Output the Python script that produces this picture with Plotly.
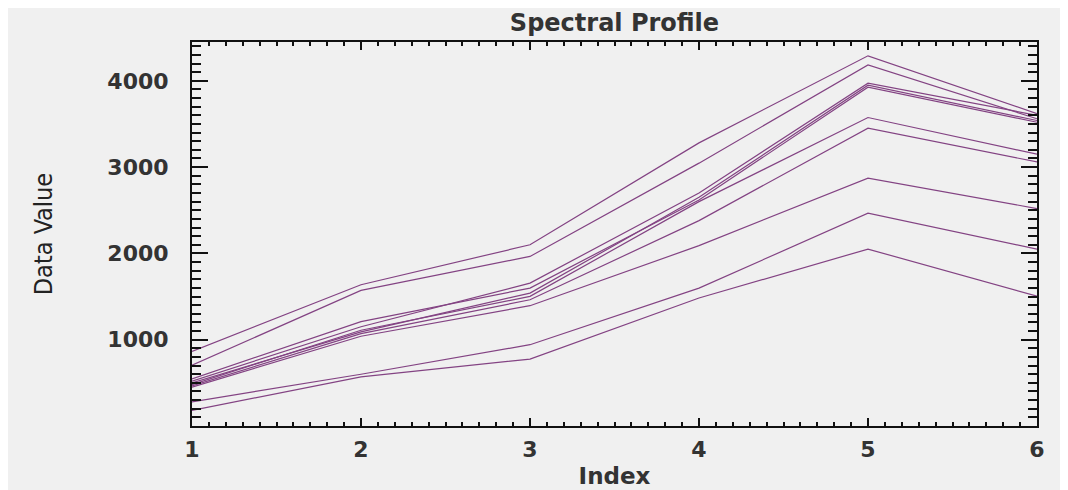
import plotly.graph_objects as go

index = [1, 2, 3, 4, 5, 6]

profile_a = [865, 1637, 2100, 3281, 4290, 3620]
profile_b = [705, 1571, 1965, 3046, 4185, 3560]
profile_c = [520, 1150, 1656, 2700, 3973, 3600]
profile_d = [500, 1090, 1540, 2650, 3950, 3540]
profile_e = [545, 1210, 1598, 2620, 3927, 3520]
profile_f = [480, 1110, 1502, 2600, 3575, 3150]
profile_g = [465, 1070, 1463, 2380, 3452, 3060]
profile_h = [450, 1040, 1394, 2090, 2873, 2520]
profile_i = [280, 600, 942, 1598, 2466, 2050]
profile_j = [180, 570, 776, 1483, 2050, 1505]

profiles = [profile_a, profile_b, profile_c, profile_d, profile_e,
            profile_f, profile_g, profile_h, profile_i, profile_j]

x_ticks = [1, 2, 3, 4, 5, 6]
y_ticks = [1000, 2000, 3000, 4000]

LINE_COLOR = "#834383"
TEXT_COLOR = "#333333"
AXIS_COLOR = "#111111"
BG = "#f0f0f0"

fig = go.Figure()
for p in profiles:
    fig.add_trace(go.Scatter(x=index, y=p, mode="lines",
                             line=dict(color=LINE_COLOR, width=1.2),
                             showlegend=False, hoverinfo="skip"))

W, H = 1060, 482
L, R, T, B = 184, 31, 34, 64

fig.update_layout(
    width=W, height=H,
    margin=dict(l=L, r=R, t=T, b=B, pad=0),
    paper_bgcolor=BG, plot_bgcolor=BG,
    title=dict(text="Spectral Profile", x=0.5, xref="paper", xanchor="center",
               y=1 - 15 / H, yanchor="middle",
               font=dict(family="DejaVu Sans", size=24, color=TEXT_COLOR, weight="bold")),
    xaxis=dict(
        range=[1, 6], tickmode="array", tickvals=x_ticks, automargin=False,
        ticks="inside", ticklen=8, tickwidth=2, tickcolor=AXIS_COLOR,
        showline=True, linecolor=AXIS_COLOR, linewidth=2, mirror="ticks",
        showgrid=False, zeroline=False,
        tickfont=dict(family="DejaVu Sans", size=22, color=TEXT_COLOR, weight="bold"),
        ticklabelstandoff=3,
        minor=dict(ticks="inside", ticklen=4, tickwidth=2, tickcolor=AXIS_COLOR,
                   tickmode="linear", tick0=1, dtick=0.1, showgrid=False),
        title=dict(text="Index", standoff=6,
                   font=dict(family="DejaVu Sans", size=23, color=TEXT_COLOR, weight="bold")),
    ),
    yaxis=dict(
        range=[0, 4450], tickmode="array", tickvals=y_ticks, automargin=False,
        ticks="inside", ticklen=16, tickwidth=2, tickcolor=AXIS_COLOR,
        showline=True, linecolor=AXIS_COLOR, linewidth=2, mirror="ticks",
        showgrid=False, zeroline=False,
        tickfont=dict(family="DejaVu Sans", size=22, color=TEXT_COLOR, weight="bold"),
        ticklabelstandoff=17,
        minor=dict(ticks="inside", ticklen=9, tickwidth=2, tickcolor=AXIS_COLOR,
                   tickmode="linear", tick0=0, dtick=100, showgrid=False),
        title=dict(text="Data Value", standoff=48,
                   font=dict(family="DejaVu Sans Condensed, Liberation Sans Narrow, Liberation Sans",
                             size=25, color="#222222")),
    ),
)

fig.write_html("out.html")
